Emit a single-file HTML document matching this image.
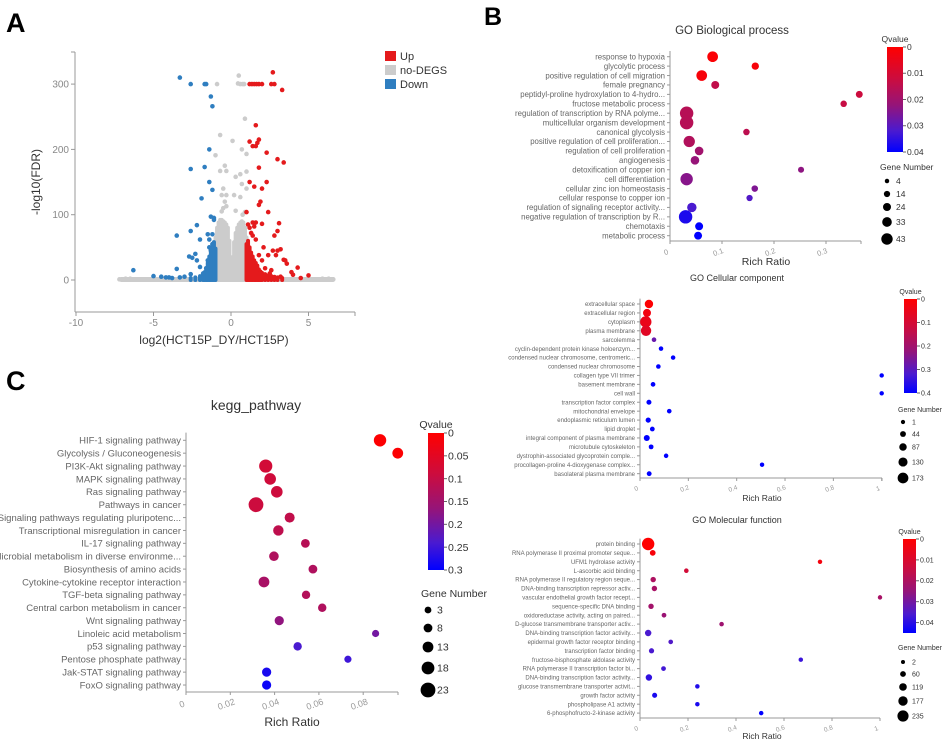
<!DOCTYPE html>
<html><head><meta charset="utf-8">
<style>
html,body{margin:0;padding:0;background:#fff;}
svg{display:block;font-family:"Liberation Sans",Arial,sans-serif;}
</style></head>
<body>
<svg id="fig" width="946" height="740" viewBox="0 0 946 740" xmlns="http://www.w3.org/2000/svg">
<defs>
<linearGradient id="qgrad" x1="0" y1="0" x2="0" y2="1">
<stop offset="0" stop-color="#ff0000"/><stop offset="0.3" stop-color="#cc0c3e"/><stop offset="0.55" stop-color="#961478"/><stop offset="0.8" stop-color="#4a1ad0"/><stop offset="1" stop-color="#0000ff"/>
</linearGradient>
</defs>
<text x="6" y="32" font-size="27" font-weight="bold" fill="#000">A</text>
<text x="484" y="25" font-size="25" font-weight="bold" fill="#000">B</text>
<text x="6" y="390" font-size="27" font-weight="bold" fill="#000">C</text>
<g id="gA"></g>
<g id="gB1"></g>
<g id="gB2"></g>
<g id="gB3"></g>
<g id="gC"></g>
</svg>
<script>
// ---------- Panel A data ----------
const volcXTicks = [-10, -5, 0, 5];
const volcYTicks = [0, 100, 200, 300];
const grayBand = [-7.2, 6.7, 3];
const grayCoreX = [-1.1,-1.0,-0.9,-0.8,-0.7,-0.6,-0.5,-0.4,-0.3,-0.2,-0.1,0,0.1,0.2,0.3,0.4,0.5,0.6,0.7,0.8,0.9,1.0];
const grayCoreTop = [35,65,80,88,92,92,90,88,85,80,60,28,35,58,72,80,85,88,90,88,80,65];
const grayPtsX = [0.5,0.45,0.6,0.75,0.85,-0.9,0.9,-0.7,0.1,0.7,-1.0,1.0,-0.4,-0.7,-0.3,0.6,0.3,1.0,0.7,1.0,-0.5,-0.6,-0.3,0.2,0.6,-0.4,-0.3,-0.5,0.3,-0.6,0.75,0.9,-7.2,-6.8,-6.5,-6.2,5.6,5.9,6.3,6.6,-5.8,-5.3];
const grayPtsY = [313,301,300,300,300,300,247,222,213,200,191,193,175,167,167,162,158,166,147,140,140,130,130,130,127,120,113,110,106,105,100,104,1,2,2,1,1,2,2,1,1,1];
const redDenseX = [1.0,1.1,1.2,1.3,1.4,1.5,1.6,1.7,1.8,1.9,2.0,2.2,2.4,2.6,2.8,3.0,3.3];
const redDenseTop = [55,60,50,42,36,30,26,22,16,13,11,9,7,6,5,4,3];
const redPtsX = [2.7,3.3,1.2,1.35,1.5,1.65,1.8,2.0,2.6,2.8,1.6,1.2,1.8,1.4,1.6,1.7,2.3,3.0,3.4,1.8,1.2,1.5,2.3,2.0,1.9,1.8,2.4,1.0,3.1,1.6,1.4,2.0,1.5,3.0,1.2,2.8,1.4,1.6,2.7,3.0,3.2,2.9,2.4,1.8,3.4,3.5,3.6,4.3,3.9,4.0,5.0,4.5,3.2,2.5,2.2,2.6,1.3,1.1,2.1,2.0];
const redPtsY = [318,291,300,300,300,300,300,300,300,300,237,212,215,205,205,210,195,185,180,172,150,143,150,140,120,115,104,104,87,88,88,86,82,75,80,68,68,62,45,45,47,38,38,38,31,30,25,19,12,8,7,3,5,10,18,15,72,85,50,30];
const blueDenseX = [-1.0,-1.1,-1.2,-1.3,-1.4,-1.5,-1.6,-1.7,-1.8,-2.0,-2.3,-2.6];
const blueDenseTop = [48,58,52,46,36,26,18,12,9,6,4,3];
const bluePtsX = [-3.3,-2.6,-1.6,-1.7,-1.3,-1.2,-1.4,-2.6,-1.7,-1.4,-1.2,-1.9,-1.3,-1.1,-2.2,-2.6,-3.5,-1.5,-1.2,-2.0,-1.4,-2.7,-2.5,-2.3,-2.2,-3.5,-2.6,-6.3,-5.0,-4.5,-4.0,-3.0,-1.8,-2.0,-1.6,-1.3,-1.2,-1.4,-1.5,-1.1,-3.8,-4.2,-3.3];
const bluePtsY = [310,300,300,300,281,266,200,170,173,150,138,125,97,92,84,75,68,70,70,62,62,36,34,40,30,17,9,15,6,5,4,5,10,20,18,45,55,50,30,95,3,4,4];

// ---------- Panel B1 data ----------
const bpTerms = ["response to hypoxia","glycolytic process","positive regulation of cell migration","female pregnancy","peptidyl-proline hydroxylation to 4-hydro...","fructose metabolic process","regulation of transcription by RNA polyme...","multicellular organism development","canonical glycolysis","positive regulation of cell proliferation...","regulation of cell proliferation","angiogenesis","detoxification of copper ion","cell differentiation","cellular zinc ion homeostasis","cellular response to copper ion","regulation of signaling receptor activity...","negative regulation of transcription by R...","chemotaxis","metabolic process"];
const bpRich = [0.082,0.164,0.061,0.087,0.364,0.334,0.032,0.032,0.147,0.037,0.056,0.048,0.252,0.032,0.163,0.153,0.042,0.030,0.056,0.054];
const bpQ = [0.001,0.002,0.002,0.014,0.012,0.013,0.016,0.016,0.015,0.017,0.020,0.022,0.023,0.024,0.025,0.031,0.032,0.037,0.040,0.040];
const bpGenes = [30,14,30,17,12,10,43,43,10,33,20,20,8,38,10,9,24,43,17,17];
const bpXTicks = [0,0.1,0.2,0.3];
const bpQTicks = [0,0.01,0.02,0.03,0.04];
const bpLegend = [4,14,24,33,43];

// ---------- Panel B2 data ----------
const ccTerms = ["extracellular space","extracellular region","cytoplasm","plasma membrane","sarcolemma","cyclin-dependent protein kinase holoenzym...","condensed nuclear chromosome, centromeric...","condensed nuclear chromosome","collagen type VII trimer","basement membrane","cell wall","transcription factor complex","mitochondrial envelope","endoplasmic reticulum lumen","lipid droplet","integral component of plasma membrane","microtubule cytoskeleton","dystrophin-associated glycoprotein comple...","procollagen-proline 4-dioxygenase complex...","basolateral plasma membrane"];
const ccRich = [0.037,0.029,0.024,0.025,0.058,0.087,0.137,0.076,1.0,0.054,1.0,0.037,0.121,0.034,0.051,0.028,0.046,0.108,0.505,0.038];
const ccQ = [0.005,0.03,0.05,0.07,0.28,0.4,0.4,0.4,0.4,0.4,0.4,0.4,0.4,0.4,0.4,0.4,0.4,0.4,0.4,0.4];
const ccGenes = [100,90,173,150,5,3,3,5,1,8,1,15,5,20,10,40,10,3,1,12];
const ccXTicks = [0,0.2,0.4,0.6,0.8,1];
const ccQTicks = [0,0.1,0.2,0.3,0.4];
const ccLegend = [1,44,87,130,173];

// ---------- Panel B3 data ----------
const mfTerms = ["protein binding","RNA polymerase II proximal promoter seque...","UFM1 hydrolase activity","L-ascorbic acid binding","RNA polymerase II regulatory region seque...","DNA-binding transcription repressor activ...","vascular endothelial growth factor recept...","sequence-specific DNA binding","oxidoreductase activity, acting on paired...","D-glucose transmembrane transporter activ...","DNA-binding transcription factor activity...","epidermal growth factor receptor binding","transcription factor binding","fructose-bisphosphate aldolase activity","RNA polymerase II transcription factor bi...","DNA-binding transcription factor activity...","glucose transmembrane transporter activit...","growth factor activity","phospholipase A1 activity","6-phosphofructo-2-kinase activity"];
const mfRich = [0.034,0.053,0.75,0.193,0.055,0.06,1.0,0.046,0.1,0.34,0.034,0.128,0.048,0.67,0.098,0.037,0.239,0.061,0.239,0.505];
const mfQ = [0.0,0.002,0.003,0.012,0.020,0.021,0.021,0.022,0.024,0.023,0.036,0.035,0.036,0.038,0.037,0.039,0.041,0.042,0.042,0.045];
const mfGenes = [235,40,2,5,30,30,1,30,10,4,60,8,25,2,10,60,4,20,3,2];
const mfXTicks = [0,0.2,0.4,0.6,0.8,1];
const mfQTicks = [0,0.01,0.02,0.03,0.04];
const mfLegend = [2,60,119,177,235];

// ---------- Panel C data ----------
const keggTerms = ["HIF-1 signaling pathway","Glycolysis / Gluconeogenesis","PI3K-Akt signaling pathway","MAPK signaling pathway","Ras signaling pathway","Pathways in cancer","Signaling pathways regulating pluripotenc...","Transcriptional misregulation in cancer","IL-17 signaling pathway","Microbial metabolism in diverse environme...","Biosynthesis of amino acids","Cytokine-cytokine receptor interaction","TGF-beta signaling pathway","Central carbon metabolism in cancer","Wnt signaling pathway","Linoleic acid metabolism","p53 signaling pathway","Pentose phosphate pathway","Jak-STAT signaling pathway","FoxO signaling pathway"];
const keggRich = [0.0876,0.0956,0.036,0.038,0.041,0.0316,0.0468,0.0417,0.0539,0.0397,0.0573,0.0352,0.0542,0.0615,0.0421,0.0856,0.0504,0.0731,0.0364,0.0364];
const keggQ = [0.003,0.005,0.08,0.085,0.088,0.09,0.105,0.11,0.12,0.13,0.13,0.14,0.125,0.13,0.17,0.2,0.24,0.25,0.28,0.29];
const keggGenes = [17,13,19,15,15,23,11,12,8,10,8,13,7,7,9,4,7,4,9,9];
const keggXTicks = [0,0.02,0.04,0.06,0.08];
const keggQTicks = [0,0.05,0.1,0.15,0.2,0.25,0.3];
const keggLegend = [3,8,13,18,23];

const NS = "http://www.w3.org/2000/svg";
function mk(parent, tag, attrs, text){
  const e = document.createElementNS(NS, tag);
  for (const k in attrs) e.setAttribute(k, attrs[k]);
  if (text !== undefined) e.textContent = text;
  parent.appendChild(e);
  return e;
}
const stops = [[0,[255,0,0]],[0.3,[204,12,62]],[0.55,[150,20,120]],[0.8,[74,26,208]],[1,[0,0,255]]];
function qColor(t){
  t = Math.max(0, Math.min(1, t));
  for (let i=1;i<stops.length;i++){
    if (t <= stops[i][0]){
      const a = stops[i-1], b = stops[i];
      const f = (t - a[0])/(b[0]-a[0]);
      const c = a[1].map((v,j)=>Math.round(v + (b[1][j]-v)*f));
      return "rgb("+c.join(",")+")";
    }
  }
  return "rgb(0,0,255)";
}

// ---------- Panel A ----------
(function(){
  const g = document.getElementById("gA");
  const xA = v => 231 + v*15.5;
  const yA = v => 280 - v*0.653;
  let e;
  e = mk(g,"line",{x1:75,y1:52,x2:75,y2:312,stroke:"#999","stroke-width":1});
   
  e = mk(g,"line",{x1:75,y1:312,x2:355,y2:312,stroke:"#999","stroke-width":1});
   
  mk(g,"line",{x1:71,y1:52,x2:75,y2:52,stroke:"#999"});
  mk(g,"line",{x1:355,y1:312,x2:355,y2:316,stroke:"#999"});
  volcXTicks.forEach(v=>{
    mk(g,"line",{x1:xA(v),y1:312,x2:xA(v),y2:316,stroke:"#999"});
    const t = mk(g,"text",{x:xA(v),y:326,"font-size":10,fill:"#888","text-anchor":"middle"}, String(v));
     
  });
  volcYTicks.forEach(v=>{
    mk(g,"line",{x1:71,y1:yA(v),x2:75,y2:yA(v),stroke:"#999"});
    const t = mk(g,"text",{x:69,y:yA(v)+3.5,"font-size":10,fill:"#888","text-anchor":"end"}, String(v));
     
  });
  e = mk(g,"text",{x:40,y:182,"font-size":12,fill:"#333","text-anchor":"middle",transform:"rotate(-90 40 182)"},"-log10(FDR)");
   
  e = mk(g,"text",{x:214,y:344,"font-size":12,fill:"#333","text-anchor":"middle"},"log2(HCT15P_DY/HCT15P)");
   
  e = mk(g,"rect",{x:xA(grayBand[0]),y:yA(grayBand[2])-1,width:xA(grayBand[1])-xA(grayBand[0]),height:yA(0)-yA(grayBand[2])+3,rx:2,fill:"#cccccc"});
   
  const dense = (xs, tops, col, name) => {
    xs.forEach((x,i)=>{
      const r = mk(g,"rect",{x:xA(x)-2,y:yA(tops[i])-2,width:4,height:yA(0)-yA(tops[i])+4,rx:2,fill:col});
      
      
    });
  };
  const pts = (xs, ys, col, name) => {
    xs.forEach((x,i)=>{
      const c = mk(g,"circle",{cx:xA(x),cy:yA(ys[i]),r:2.3,fill:col});
      
      
    });
  };
  dense(grayCoreX, grayCoreTop, "#cccccc", "no-degs-dense");
  pts(grayPtsX, grayPtsY, "#cccccc", "no-degs-point");
  dense(redDenseX, redDenseTop, "#e41a1c", "up-dense");
  pts(redPtsX, redPtsY, "#e41a1c", "up-point");
  dense(blueDenseX, blueDenseTop, "#2f7ec0", "down-dense");
  pts(bluePtsX, bluePtsY, "#2f7ec0", "down-point");
  const leg = [["Up","#e41a1c"],["no-DEGS","#cccccc"],["Down","#2f7ec0"]];
  leg.forEach((l,i)=>{
    const y = 51 + i*14;
    const r = mk(g,"rect",{x:385,y:y,width:11,height:10,fill:l[1]});
     
    const t = mk(g,"text",{x:400,y:y+9,"font-size":11,fill:"#333"},l[0]);
     
  });
})();

// ---------- generic bubble chart ----------
function bubble(gid, terms, rich, q, genes, xTicks, qTicks, legend, L){
  const g = document.getElementById(gid);
  const xS = v => L.ax + v*L.ppu;
  const yS = i => L.top + i*L.step;
  const rS = n => L.r0 + n*L.rk;
  let e;
  e = mk(g,"text",{x:L.titleX,y:L.titleY,"font-size":L.titleFs,fill:"#333","text-anchor":"middle"},L.title);
   
  e = mk(g,"line",{x1:L.ax,y1:L.top-L.step*0.6,x2:L.ax,y2:L.axisY,stroke:"#999"});
   
  e = mk(g,"line",{x1:L.ax,y1:L.axisY,x2:L.xEnd,y2:L.axisY,stroke:"#999"});
   
  mk(g,"line",{x1:L.xEnd,y1:L.axisY,x2:L.xEnd,y2:L.axisY+3,stroke:"#999"});
  xTicks.forEach(v=>{
    mk(g,"line",{x1:xS(v),y1:L.axisY,x2:xS(v),y2:L.axisY+3,stroke:"#999"});
    const tx = xS(v)-3, ty = L.axisY + L.tickFs + 6;
    const t = mk(g,"text",{x:tx,y:ty,"font-size":L.tickFs,fill:"#999","text-anchor":"middle",transform:"rotate(-20 "+tx+" "+ty+")"},String(v));
     
  });
  e = mk(g,"text",{x:L.rrX,y:L.rrY,"font-size":L.rrFs,fill:"#333","text-anchor":"middle"},"Rich Ratio");
   
  terms.forEach((tm,i)=>{
    mk(g,"line",{x1:L.ax-3,y1:yS(i),x2:L.ax,y2:yS(i),stroke:"#999"});
    const t = mk(g,"text",{x:L.ax-5,y:yS(i)+L.labFs*0.35,"font-size":L.labFs,fill:"#666","text-anchor":"end"},tm);
     
  });
  terms.forEach((tm,i)=>{
    const c = mk(g,"circle",{cx:xS(rich[i]),cy:yS(i),r:rS(genes[i]),fill:qColor(q[i]/L.qmax)});
    
    
  });
  const cb = L.cb;
  e = mk(g,"text",{x:cb.x+cb.w/2,y:cb.y-5,"font-size":L.legFs,fill:"#333","text-anchor":"middle"},"Qvalue");
   
  e = mk(g,"rect",{x:cb.x,y:cb.y,width:cb.w,height:cb.h,fill:"url(#qgrad)"});
   
  qTicks.forEach(v=>{
    const y = cb.y + v/L.qmax*cb.h;
    mk(g,"line",{x1:cb.x+cb.w,y1:y,x2:cb.x+cb.w+3,y2:y,stroke:"#666"});
    const t = mk(g,"text",{x:cb.x+cb.w+4,y:y+L.cbFs*0.35,"font-size":L.cbFs,fill:"#333"},String(v));
     
  });
  e = mk(g,"text",{x:L.gnX,y:L.gnY,"font-size":L.legFs,fill:"#333"},"Gene Number");
   
  legend.forEach((n,i)=>{
    const y = L.legY[i];
    const c = mk(g,"circle",{cx:L.legDotX,cy:y,r:rS(n)*L.legScale,fill:"#000"});
     
    const t = mk(g,"text",{x:L.legDotX+9,y:y+L.cbFs*0.35,"font-size":L.cbFs,fill:"#333"},String(n));
     
  });
}

bubble("gB1", bpTerms, bpRich, bpQ, bpGenes, bpXTicks, bpQTicks, bpLegend, {
  title:"GO Biological process", titleX:732, titleY:34, titleFs:11.5,
  ax:670, ppu:520, top:56.7, step:9.42, axisY:241, xEnd:861,
  tickFs:7.5, rrX:766, rrY:265, rrFs:10.5, labFs:7.8,
  r0:2.2, rk:0.105, qmax:0.04, legScale:0.85,
  cb:{x:887,y:47,w:16,h:105}, legFs:8.5, cbFs:8.5,
  gnX:880, gnY:170, legDotX:887, legY:[181,194,207,222,239]
});
bubble("gB2", ccTerms, ccRich, ccQ, ccGenes, ccXTicks, ccQTicks, ccLegend, {
  title:"GO Cellular component", titleX:737, titleY:281, titleFs:9,
  ax:640, ppu:241.7, top:304, step:8.93, axisY:478, xEnd:882,
  tickFs:6.5, rrX:762, rrY:501, rrFs:8.5, labFs:6,
  r0:2.2, rk:0.02, qmax:0.4, legScale:0.95,
  cb:{x:904,y:299,w:13,h:94}, legFs:7, cbFs:7,
  gnX:898, gnY:412, legDotX:903, legY:[422,434,447,462,478]
});
bubble("gB3", mfTerms, mfRich, mfQ, mfGenes, mfXTicks, mfQTicks, mfLegend, {
  title:"GO Molecular function", titleX:737, titleY:523, titleFs:9,
  ax:640, ppu:240, top:544, step:8.9, axisY:718, xEnd:880,
  tickFs:6.5, rrX:762, rrY:739, rrFs:8.5, labFs:6,
  r0:2.2, rk:0.017, qmax:0.045, legScale:0.9,
  cb:{x:903,y:539,w:13,h:94}, legFs:7, cbFs:7,
  gnX:898, gnY:650, legDotX:903, legY:[662,674,687,701,716]
});
bubble("gC", keggTerms, keggRich, keggQ, keggGenes, keggXTicks, keggQTicks, keggLegend, {
  title:"kegg_pathway", titleX:256, titleY:410, titleFs:14,
  ax:186, ppu:2215, top:440.3, step:12.88, axisY:692, xEnd:398,
  tickFs:9, rrX:292, rrY:726, rrFs:12, labFs:9.5,
  r0:2.8, rk:0.2, qmax:0.3, legScale:1,
  cb:{x:428,y:433,w:16,h:137}, legFs:10.5, cbFs:10.5,
  gnX:421, gnY:597, legDotX:428, legY:[610,628,647,668,690]
});
</script>
</body></html>
